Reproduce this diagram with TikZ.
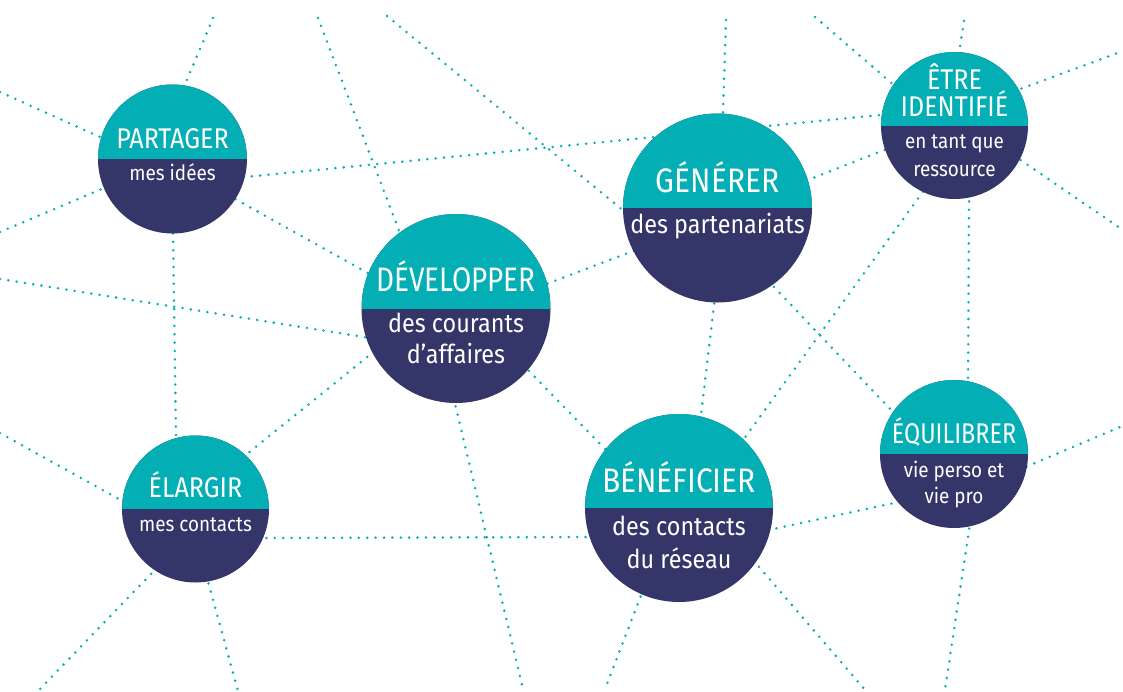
\documentclass[tikz,border=0pt]{standalone}
\usepackage{fontspec}
\setmainfont{Fira Sans}
\newfontfamily\capfont[FakeStretch=0.88]{Fira Sans}
\newfontfamily\capfontn[FakeStretch=0.82]{Fira Sans}
\newfontfamily\subfont[FakeStretch=0.9]{Fira Sans}
\definecolor{tealc}{HTML}{03AFB4}
\definecolor{navyc}{HTML}{343568}
\begin{document}
\begin{tikzpicture}[x=1pt,y=-1pt,
  dotline/.style={draw=tealc, line width=2.8pt, line cap=round, dash pattern=on 0pt off 8.4pt},
  xs/.style={shorten <=-10pt},
  xe/.style={shorten >=-10pt},
  xb/.style={shorten <=-10pt, shorten >=-10pt},
  bubble/.style={circle, fill=navyc, inner sep=0pt, minimum size=#1,
    path picture={\fill[tealc] ([yshift=1pt]path picture bounding box.north west) rectangle (path picture bounding box.east);}},
  bigcap/.style={text=white, inner sep=0pt, anchor=base, font=\capfont\fontsize{34}{34}\selectfont},
  bigcapn/.style={text=white, inner sep=0pt, anchor=base, font=\capfontn\fontsize{34}{34}\selectfont},
  smallcap/.style={text=white, inner sep=0pt, anchor=base, font=\capfont\fontsize{28.5}{28.5}\selectfont},
  smallcapn/.style={text=white, inner sep=0pt, anchor=base, font=\capfontn\fontsize{28.5}{28.5}\selectfont},
  bigsub/.style={text=white, inner sep=0pt, anchor=base, font=\subfont\fontsize{26}{26}\selectfont},
  smallsub/.style={text=white, inner sep=0pt, anchor=base, font=\subfont\fontsize{21}{21}\selectfont}]
\useasboundingbox (0,0) rectangle (1123,691);
% dotted network
\draw[dotline,xe] (213,18) -- (186,82);
\draw[dotline,xe] (0,92) -- (100,137);
\draw[dotline,xe] (0,232) -- (97,191);
\draw[dotline,xb] (245,177) -- (880,115);
\draw[dotline,xb] (237,200) -- (366,272);
\draw[dotline,xe] (0,279) -- (364,337);
\draw[dotline,xb] (173,235) -- (176,435);
\draw[dotline,xe] (318,18) -- (398,228);
\draw[dotline,xe] (387,16) -- (619,207);
\draw[dotline,xb] (549,283) -- (628,253);
\draw[dotline,xe] (726,20) -- (723,113);
\draw[dotline,xb] (808,180) -- (879,152);
\draw[dotline,xe] (815,17) -- (888,80);
\draw[dotline,xe] (964,21) -- (960,47);
\draw[dotline,xs] (1023,88) -- (1123,51);
\draw[dotline,xs] (1022,161) -- (1120,228);
\draw[dotline,xb] (969,203) -- (968,380);
\draw[dotline,xb] (922,193) -- (746,436);
\draw[dotline,xb] (775,288) -- (893,412);
\draw[dotline,xb] (714,305) -- (701,415);
\draw[dotline,xb] (530,372) -- (604,448);
\draw[dotline,xs] (456,408) -- (523,689);
\draw[dotline,xb] (268,538) -- (588,537);
\draw[dotline,xb] (366,358) -- (252,450);
\draw[dotline,xe] (0,433) -- (117,498);
\draw[dotline,xs] (150,575) -- (38,691);
\draw[dotline,xs] (209,585) -- (238,691);
\draw[dotline,xs] (640,598) -- (605,689);
\draw[dotline,xs] (760,568) -- (866,691);
\draw[dotline,xb] (778,528) -- (894,503);
\draw[dotline,xs] (1028,466) -- (1120,427);
\draw[dotline,xs] (969,530) -- (945,690);
% bubbles
\node[bubble=149pt] (partager) at (172.5,159) {};
\node[bubble=189pt] (developper) at (456,308.5) {};
\node[bubble=189pt] (generer) at (717.5,208) {};
\node[bubble=147pt] (etre) at (954.5,125.5) {};
\node[bubble=147pt] (elargir) at (195.5,509) {};
\node[bubble=188pt] (beneficier) at (679,508) {};
\node[bubble=148pt] (equilibrer) at (954,454) {};
% texts
\node[smallcap] (t1) at (172.5,148) {PARTAGER};
\node[smallsub] (s1) at (172.5,180) {mes idées};
\node[bigcapn] (t2) at (456,291) {DÉVELOPPER};
\node[bigsub] (s2a) at (456,332) {des courants};
\node[bigsub] (s2b) at (456,363) {d’affaires};
\node[bigcap] (t3) at (717.5,192) {GÉNÉRER};
\node[bigsub] (s3) at (717.5,233) {des partenariats};
\node[smallcap] (t4a) at (954.5,89) {ÊTRE};
\node[smallcap] (t4b) at (954.5,116) {IDENTIFIÉ};
\node[smallsub] (s4a) at (954.5,148) {en tant que};
\node[smallsub] (s4b) at (954.5,176) {ressource};
\node[smallcap] (t5) at (195.5,497) {ÉLARGIR};
\node[smallsub] (s5) at (195.5,531) {mes contacts};
\node[bigcap] (t6) at (679,492) {BÉNÉFICIER};
\node[bigsub] (s6a) at (679,535) {des contacts};
\node[bigsub] (s6b) at (679,568) {du réseau};
\node[smallcapn] (t7) at (954,443) {ÉQUILIBRER};
\node[smallsub] (s7a) at (954,477) {vie perso et};
\node[smallsub] (s7b) at (954,503) {vie pro};
\end{tikzpicture}
\end{document}
